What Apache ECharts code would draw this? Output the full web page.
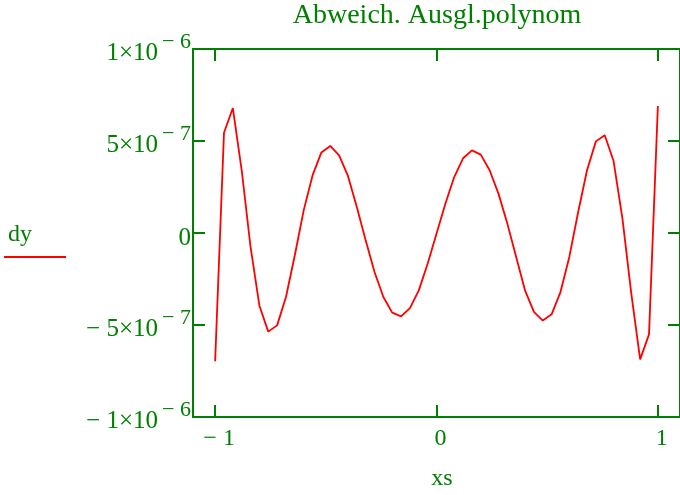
<!DOCTYPE html>
<html>
<head>
<meta charset="utf-8">
<script src="https://cdn.jsdelivr.net/npm/echarts@6/dist/echarts.min.js"></script>
<style>
  html, body { margin: 0; padding: 0; background: #ffffff; }
  #chart { width: 680px; height: 495px; }
</style>
</head>
<body>
<div id="chart"></div>
<script>
// Sample points of the fit residual dy over xs
const xs = [
  -1.00, -0.96, -0.92, -0.88, -0.84, -0.80, -0.76, -0.72, -0.68, -0.64,
  -0.60, -0.56, -0.52, -0.48, -0.44, -0.40, -0.36, -0.32, -0.28, -0.24,
  -0.20, -0.16, -0.12, -0.08, -0.04,  0.00,  0.04,  0.08,  0.12,  0.16,
   0.20,  0.24,  0.28,  0.32,  0.36,  0.40,  0.44,  0.48,  0.52,  0.56,
   0.60,  0.64,  0.68,  0.72,  0.76,  0.80,  0.84,  0.88,  0.92,  0.96,
   1.00
];
const dy = [
  -6.97e-7,  5.45e-7,  6.79e-7,  3.41e-7, -0.76e-7, -3.95e-7, -5.36e-7, -5.02e-7, -3.48e-7, -1.21e-7,
   1.23e-7,  3.13e-7,  4.38e-7,  4.73e-7,  4.22e-7,  3.10e-7,  1.41e-7, -0.40e-7, -2.12e-7, -3.48e-7,
  -4.33e-7, -4.53e-7, -4.08e-7, -3.12e-7, -1.67e-7, -0.04e-7,  1.59e-7,  3.04e-7,  4.06e-7,  4.49e-7,
   4.26e-7,  3.41e-7,  2.14e-7,  0.51e-7, -1.30e-7, -3.12e-7, -4.29e-7, -4.76e-7, -4.42e-7, -3.21e-7,
  -1.30e-7,  1.14e-7,  3.41e-7,  4.98e-7,  5.31e-7,  3.91e-7,  0.78e-7, -3.30e-7, -6.87e-7, -5.51e-7,
   6.90e-7
];

// Axis ticks and their labels (mantissa part and exponent part)
const xTicks = [-1, 0, 1];
const xTickLabels = ['− 1', '0', '1'];
const yTicks = [-1e-6, -5e-7, 0, 5e-7, 1e-6];
const yTickBase = ['− 1×10', '− 5×10', '0', '5×10', '1×10'];
const yTickExp = ['− 6', '− 7', '', '− 7', '− 6'];

const GREEN = '#008000';
const RED = '#ff0000';
const FONT = '"Liberation Serif", "DejaVu Serif", serif';

function nearestIndex(list, v) {
  let best = 0;
  for (let i = 1; i < list.length; i++) {
    if (Math.abs(list[i] - v) < Math.abs(list[best] - v)) best = i;
  }
  return best;
}

const frameLine = { show: true, onZero: false, lineStyle: { color: GREEN, width: 2 } };
const innerTick = { show: true, inside: true, length: 12, lineStyle: { color: GREEN, width: 2 } };

const chart = echarts.init(document.getElementById('chart'), null, { renderer: 'canvas' });

chart.setOption({
  animation: false,
  backgroundColor: '#ffffff',
  title: {
    text: 'Abweich. Ausgl.polynom',
    left: 437,
    top: 2,
    padding: 0,
    textAlign: 'center',
    textStyle: { color: GREEN, fontFamily: FONT, fontSize: 28, fontWeight: 'normal' }
  },
  grid: { left: 193, top: 49, width: 490, height: 368, containLabel: false },
  xAxis: [
    {
      type: 'value',
      position: 'bottom',
      min: -1.1,
      max: 1.1,
      splitLine: { show: false },
      axisLine: frameLine,
      axisTick: Object.assign({ customValues: xTicks }, innerTick),
      axisLabel: {
        customValues: xTicks,
        margin: 10,
        color: GREEN,
        fontFamily: FONT,
        fontSize: 24,
        padding: [0, 0, 0, 8],
        formatter: v => xTickLabels[nearestIndex(xTicks, v)]
      }
    },
    {
      type: 'value',
      position: 'top',
      min: -1.1,
      max: 1.1,
      splitLine: { show: false },
      axisLine: frameLine,
      axisTick: Object.assign({ customValues: xTicks }, innerTick),
      axisLabel: { show: false }
    }
  ],
  yAxis: [
    {
      type: 'value',
      position: 'left',
      min: -1e-6,
      max: 1e-6,
      splitLine: { show: false },
      axisLine: frameLine,
      axisTick: Object.assign({ customValues: yTicks }, innerTick),
      axisLabel: {
        customValues: yTicks,
        margin: 2,
        padding: [6, 0, 0, 0],
        formatter: v => {
          const i = nearestIndex(yTicks, v);
          // exponent on a raised line, mantissa below it and left of the exponent
          return yTickExp[i]
            ? '{s|' + yTickExp[i] + '}\n{b|' + yTickBase[i] + '}'
            : '{z|' + yTickBase[i] + '}';
        },
        rich: {
          s: { color: GREEN, fontFamily: FONT, fontSize: 22, lineHeight: 2 },
          b: { color: GREEN, fontFamily: FONT, fontSize: 25, lineHeight: 20, padding: [0, 33, 0, 0] },
          z: { color: GREEN, fontFamily: FONT, fontSize: 25, lineHeight: 24, padding: [4, 0, 0, 0] }
        }
      }
    },
    {
      type: 'value',
      position: 'right',
      min: -1e-6,
      max: 1e-6,
      splitLine: { show: false },
      axisLine: frameLine,
      axisTick: Object.assign({ customValues: yTicks }, innerTick),
      axisLabel: { show: false }
    }
  ],
  series: [
    {
      name: 'dy',
      type: 'line',
      xAxisIndex: 0,
      yAxisIndex: 0,
      data: xs.map((x, i) => [x, dy[i]]),
      showSymbol: false,
      smooth: false,
      lineStyle: { color: RED, width: 1.8 },
      itemStyle: { color: RED }
    }
  ],
  graphic: [
    {
      type: 'text',
      left: 8,
      top: 223,
      style: { text: 'dy', fill: GREEN, font: '24px ' + FONT }
    },
    {
      type: 'line',
      shape: { x1: 4, y1: 257, x2: 66, y2: 257 },
      style: { stroke: RED, lineWidth: 2 }
    },
    {
      type: 'text',
      x: 442,
      y: 479,
      style: { text: 'xs', fill: GREEN, font: '24px ' + FONT, align: 'center', verticalAlign: 'middle' }
    }
  ]
});
</script>
</body>
</html>
